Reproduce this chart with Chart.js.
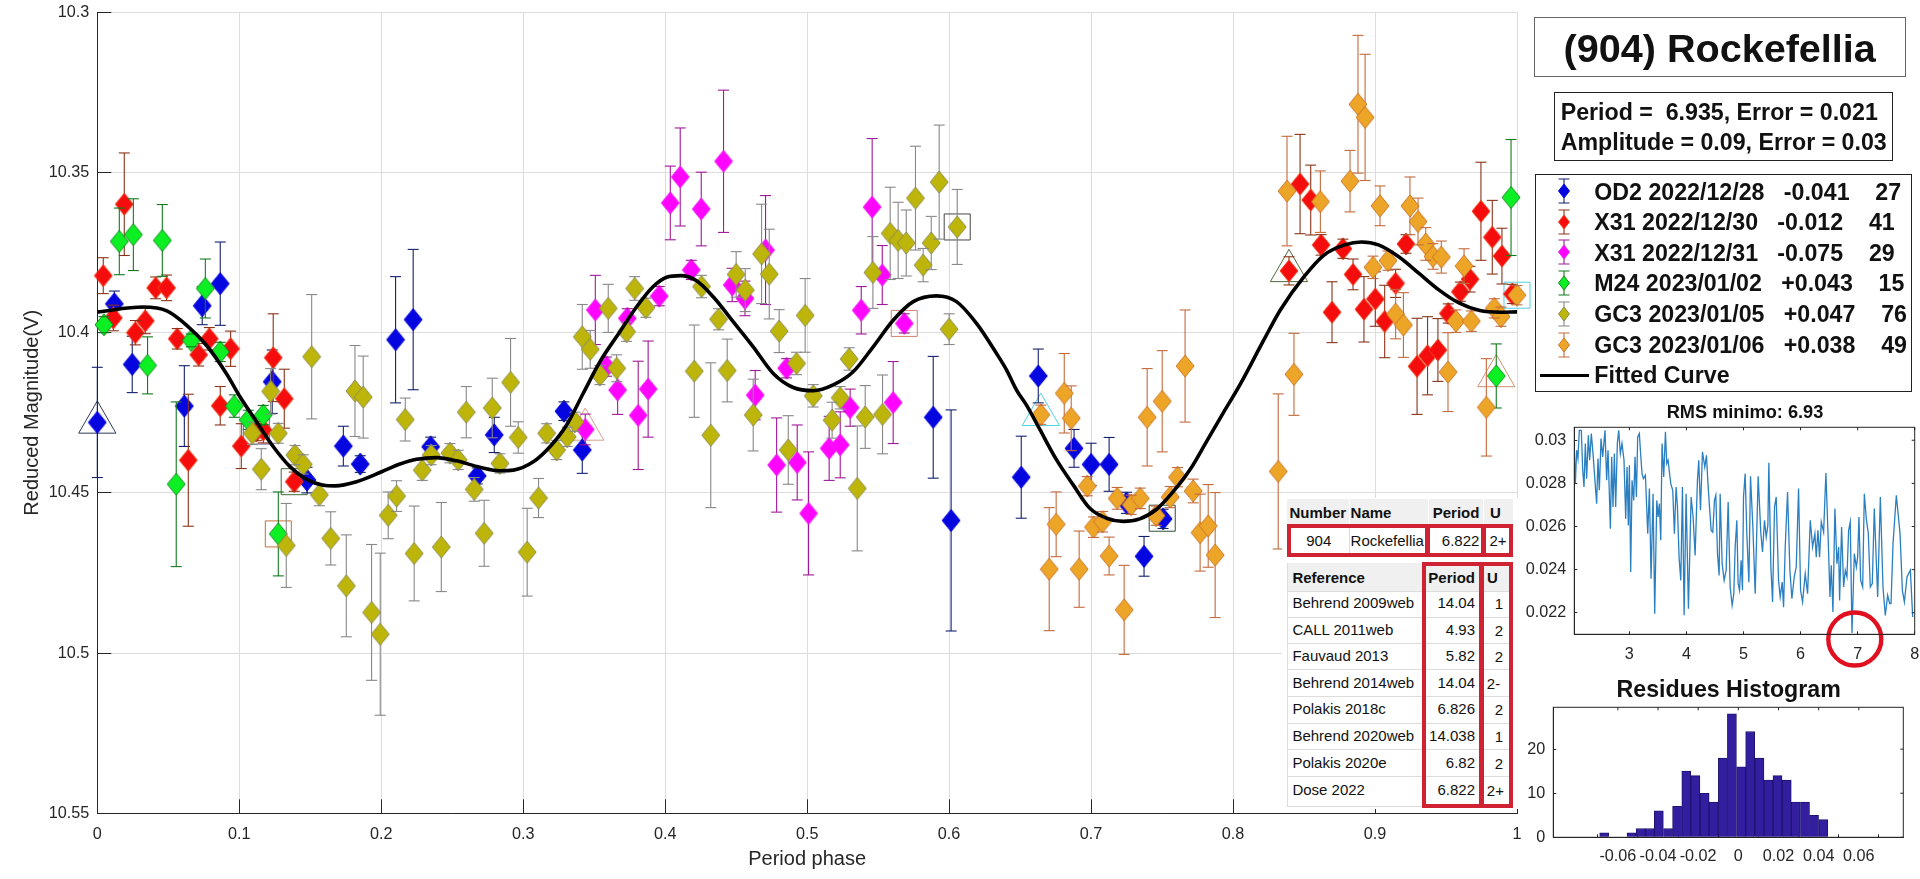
<!DOCTYPE html>
<html>
<head>
<meta charset="utf-8">
<title>(904) Rockefellia</title>
<script src="https://cdn.jsdelivr.net/npm/chart.js@4"></script>
<style>
  html, body { margin: 0; padding: 0; background: #fff; overflow: hidden; }
  #page { position: relative; width: 1920px; height: 879px; font-family: "Liberation Sans", Arial, sans-serif; }
  canvas { position: absolute; }
  .txt { position: absolute; line-height: 1; white-space: pre; color: #111; }
  .box { position: absolute; box-sizing: border-box; }
</style>
</head>
<body>
<div id="page">
  <canvas id="mainChart" width="1540" height="879" style="left:0;top:0"></canvas>
  <canvas id="rmsChart" width="400" height="260" style="left:1520px;top:420px"></canvas>
  <canvas id="histChart" width="400" height="179" style="left:1520px;top:700px"></canvas>
</div>
<script>
// 1. Data

// 1.1 main plot axes
const xTicks = [0, 0.1, 0.2, 0.3, 0.4, 0.5, 0.6, 0.7, 0.8, 0.9, 1];
const yTicks = [10.3, 10.35, 10.4, 10.45, 10.5, 10.55];

// 1.2 OD2 2022/12/28
const od2Phase = [0, .012, .0246, .0613, .0739, .0866, .1232, .1477, .1733, .1852, .2101, .2225, .2348, .2676, .2796, .3287, .3416, .5888, .6014, .6508, .6628, .688, .7, .7127, .7249, .7373, .7507];
const od2Mag = [10.428, 10.391, 10.4099, 10.4229, 10.3916, 10.3847, 10.4153, 10.446, 10.4354, 10.441, 10.4022, 10.3959, 10.4356, 10.4447, 10.4319, 10.4245, 10.4366, 10.4264, 10.4586, 10.4451, 10.4135, 10.4361, 10.4411, 10.4411, 10.4531, 10.4698, 10.4581];
const od2Err = [.0172, .004, .0088, .0126, .0059, .013, .0099, .004, .0062, .0026, .0197, .0219, .003, .0025, .0055, .0029, .0073, .019, .0345, .0128, .0084, .0059, .0066, .0084, .0033, .0062, .003];

// 1.3 X31 2022/12/30
const x31aPhase = [.0042, .0113, .019, .0268, .0338, .0411, .0488, .0563, .0641, .0714, .0789, .0866, .0939, .1014, .112, .1169, .1239, .1317, .1387, .8394, .8472, .8547, .862, .8697, .8774, .8845, .8922, .9002, .9068, .9145, .9218, .9296, .937, .9443, .9516, .9601, .9669, .9746, .9826, .9894, .9967];
const x31aMag = [10.3822, 10.3954, 10.3599, 10.4, 10.3963, 10.386, 10.386, 10.4019, 10.4398, 10.4069, 10.4019, 10.4228, 10.405, 10.4354, 10.4307, 10.4304, 10.4078, 10.4206, 10.4465, 10.3807, 10.3536, 10.3586, 10.3726, 10.3936, 10.3738, 10.3818, 10.3927, 10.3895, 10.3965, 10.3846, 10.3723, 10.4105, 10.4072, 10.4054, 10.394, 10.3872, 10.3833, 10.3621, 10.3702, 10.3761, 10.3879];
const x31aErr = [.0056, .004, .016, .0038, .004, .0034, .004, .0032, .0206, .0035, .0035, .006, .0055, .007, .003, .004, .0137, .0092, .003, .0044, .0155, .0109, .0032, .0095, .003, .0048, .0102, .0085, .0113, .0044, .0029, .015, .0122, .0098, .003, .003, .004, .0153, .0115, .0087, .003];

// 1.4 X31 2022/12/31
const x31bPhase = [.3437, .3508, .3587, .3665, .3733, .381, .388, .3958, .4036, .4106, .4184, .4254, .4411, .4472, .4562, .4634, .4707, .4785, .4855, .493, .501, .5155, .5233, .5303, .5381, .5458, .5529, .5606, .5684];
const x31bMag = [10.4302, 10.3929, 10.4106, 10.4179, 10.3955, 10.4258, 10.4176, 10.3886, 10.3595, 10.3514, 10.3804, 10.3614, 10.3465, 10.3851, 10.3893, 10.4195, 10.3742, 10.4413, 10.4111, 10.4405, 10.4564, 10.4361, 10.435, 10.4234, 10.393, 10.3608, 10.382, 10.4218, 10.3971];
const x31bErr = [.0048, .0108, .003, .0076, .003, .0169, .015, .003, .0115, .0153, .003, .0115, .0222, .0052, .0054, .0077, .017, .0147, .003, .0117, .0192, .01, .0103, .0058, .0074, .0214, .0092, .0128, .003];

// 1.5 M24 2023/01/02
const m24Phase = [.0047, .0155, .0254, .0354, .0458, .0556, .0662, .0761, .0866, .0965, .1063, .1169, .1275, .9854, .9958];
const m24Mag = [10.3975, 10.3715, 10.3694, 10.4102, 10.3712, 10.4473, 10.4024, 10.3862, 10.406, 10.4229, 10.4272, 10.4257, 10.4628, 10.4135, 10.3578];
const m24Err = [.0025, .0104, .0112, .0089, .0112, .0257, .002, .0092, .003, .0035, .003, .003, .0131, .01, .0181];

// 1.6 GC3 2023/01/05
const gc3aPhase = [.1092, .1155, .1221, .1275, .1331, .1392, .1451, .151, .1564, .1644, .1754, .1815, .1873, .1932, .1993, .2049, .2108, .2169, .2232, .2289, .2352, .2423, .2484, .2542, .2599, .2655, .2725, .2782, .2836, .2911, .2965, .3028, .3108, .3165, .3235, .331, .3364, .3416, .3472, .354, .3599, .3658, .3728, .3785, .3864, .4205, .4256, .4321, .4376, .4437, .45, .4564, .462, .4679, .4733, .4803, .4867, .4925, .4986, .5043, .5176, .5233, .5296, .5353, .5409, .5463, .5531, .5585, .5641, .5698, .5763, .5817, .5874, .593, .6, .6057];
const gc3aMag = [10.4314, 10.4426, 10.4183, 10.4314, 10.4664, 10.4382, 10.4411, 10.4075, 10.4506, 10.4642, 10.479, 10.4182, 10.4201, 10.4873, 10.4941, 10.457, 10.451, 10.4271, 10.4689, 10.4429, 10.4382, 10.4669, 10.4376, 10.4397, 10.4248, 10.4489, 10.4626, 10.4235, 10.4408, 10.4155, 10.4327, 10.4685, 10.4516, 10.4314, 10.4366, 10.4325, 10.4278, 10.4013, 10.4052, 10.4132, 10.3924, 10.4111, 10.3997, 10.3862, 10.3922, 10.412, 10.3856, 10.432, 10.3958, 10.4118, 10.3818, 10.3867, 10.4257, 10.3754, 10.3817, 10.3995, 10.4366, 10.4096, 10.3946, 10.4197, 10.4273, 10.4203, 10.4082, 10.4486, 10.4263, 10.3812, 10.4255, 10.369, 10.3712, 10.372, 10.358, 10.3789, 10.372, 10.353, 10.3989, 10.367];
const gc3aErr = [.0035, .0064, .0071, .0031, .0131, .003, .003, .0194, .0034, .0083, .0159, .0142, .0128, .0212, .0253, .0073, .0048, .0067, .0148, .0032, .003, .0139, .003, .003, .008, .0037, .0103, .0093, .003, .0137, .0049, .0137, .0061, .003, .003, .003, .003, .0101, .0059, .003, .0075, .0042, .003, .0037, .003, .0144, .0035, .0226, .0033, .0098, .0071, .0067, .0112, .0155, .014, .0067, .0107, .0035, .0115, .0035, .0056, .0035, .0035, .0195, .0098, .0112, .0123, .0144, .0119, .0103, .0162, .0052, .0083, .0178, .0048, .0117];

// 1.7 GC3 2023/01/06
const gc3bPhase = [.6646, .6705, .6754, .6811, .686, .6916, .6973, .7017, .708, .7127, .7184, .7233, .7282, .7346, .7395, .7458, .7501, .7557, .7609, .7662, .7719, .7768, .7825, .7874, .8318, .838, .8429, .8615, .8824, .888, .893, .8986, .9035, .9091, .9145, .92, .9246, .9303, .9357, .9408, .9467, .9514, .957, .9627, .9678, .9784, .984, .9887, .9999];
const gc3bMag = [10.4256, 10.4738, 10.4598, 10.4189, 10.4267, 10.4738, 10.4479, 10.4607, 10.459, 10.4697, 10.4517, 10.4865, 10.4537, 10.4517, 10.4264, 10.4571, 10.4214, 10.4513, 10.4451, 10.4104, 10.4494, 10.4624, 10.4603, 10.4694, 10.4433, 10.3558, 10.413, 10.3591, 10.3527, 10.3287, 10.3328, 10.3796, 10.3604, 10.3775, 10.3942, 10.3976, 10.3604, 10.3653, 10.3723, 10.3762, 10.3764, 10.4123, 10.3964, 10.3792, 10.3964, 10.4233, 10.3924, 10.395, 10.3883];
const gc3bErr = [.003, .0192, .0101, .0124, .0101, .0119, .003, .0032, .0032, .0059, .0034, .0139, .003, .0032, .0152, .003, .0158, .0033, .003, .0175, .0037, .012, .0129, .0195, .0242, .0171, .0128, .0096, .0096, .0215, .0197, .0035, .0062, .003, .0077, .0101, .009, .0073, .0051, .004, .005, .0123, .0035, .0054, .0032, .0152, .003, .003, .003];

// 1.8 fitted curve
const fitPhase = [0, .0324, .049, .063, .077, .091, .1005, .1122, .124, .1357, .1474, .1592, .1674, .1826, .2003, .2132, .2249, .239, .2531, .2695, .2836, .293, .3071, .3188, .3306, .3423, .354, .3681, .3799, .3916, .401, .4108, .4221, .4338, .448, .462, .4761, .4902, .5043, .5184, .5324, .5465, .5606, .5747, .5911, .6052, .6193, .6334, .6404, .6475, .6545, .6639, .6757, .6874, .6991, .7109, .7226, .7343, .7461, .7578, .7696, .7813, .793, .8048, .8214, .8333, .85, .8643, .8786, .8905, .9024, .9167, .931, .9452, .9595, .9738, .988, 1];
const fitMag = [10.3935, 10.392, 10.3932, 10.3977, 10.404, 10.4128, 10.42, 10.4278, 10.4356, 10.4418, 10.4458, 10.4476, 10.4478, 10.4465, 10.4434, 10.441, 10.4395, 10.439, 10.44, 10.442, 10.4431, 10.4429, 10.4403, 10.4356, 10.4288, 10.4189, 10.4091, 10.3997, 10.3919, 10.3856, 10.3827, 10.3822, 10.3838, 10.3888, 10.3966, 10.4044, 10.4127, 10.4171, 10.4181, 10.4163, 10.4122, 10.4044, 10.3961, 10.3903, 10.3885, 10.3903, 10.3971, 10.4065, 10.4116, 10.4179, 10.4226, 10.4302, 10.4397, 10.4475, 10.4548, 10.4579, 10.4589, 10.4581, 10.4551, 10.4496, 10.4428, 10.434, 10.4251, 10.4163, 10.4025, 10.3929, 10.3825, 10.3757, 10.3726, 10.3717, 10.3726, 10.3763, 10.3815, 10.3867, 10.3908, 10.3931, 10.3936, 10.3935];

// 1.9 marked points (triangles and squares)
const markPhase = [0, .3437, .6646, .8394, .9854, .1387, .1275, .112, .6057, .5684, .7501, 1];
const markMag = [10.428, 10.4302, 10.4256, 10.3807, 10.4135, 10.4465, 10.4628, 10.4307, 10.367, 10.3971, 10.4579, 10.3883];
const markShape = ['triangle', 'triangle', 'triangle', 'triangle', 'triangle', 'rect', 'rect', 'rect', 'rect', 'rect', 'rect', 'rect'];
const markColor = ['#2a3a55', '#d8a090', '#50d0e0', '#506a3c', '#d09070', '#3c6a3c', '#c87030', '#6a5a90', '#444444', '#d08070', '#2f4f3a', '#50d0e0'];

// 1.10 RMS period scan
const rmsTicksX = [3, 4, 5, 6, 7, 8];
const rmsTicksY = [0.022, 0.024, 0.026, 0.028, 0.03];
const rmsPeriod = [2.035, 2.053, 2.076, 2.099, 2.123, 2.158, 2.181, 2.205, 2.228, 2.251, 2.281, 2.304, 2.333, 2.363, 2.392, 2.427, 2.45, 2.474, 2.503, 2.532, 2.573, 2.602, 2.626, 2.649, 2.667, 2.69, 2.713, 2.737, 2.76, 2.789, 2.813, 2.842, 2.871, 2.906, 2.936, 2.959, 2.982, 3, 3.023,
  3.047, 3.076, 3.099, 3.123, 3.146, 3.175, 3.199, 3.222, 3.246, 3.281, 3.322, 3.351, 3.38, 3.415, 3.444, 3.48, 3.503, 3.526, 3.55, 3.573, 3.602, 3.632, 3.655, 3.678, 3.725, 3.76, 3.789, 3.819, 3.842, 3.871, 3.901, 3.93, 3.959, 3.994, 4.035, 4.082, 4.117, 4.152, 4.193, 4.216, 4.246, 4.281, 4.322, 4.351, 4.374, 4.404, 4.433,
  4.462, 4.491, 4.515, 4.544, 4.573, 4.591, 4.626, 4.661, 4.696, 4.731, 4.766, 4.801, 4.83, 4.854, 4.883, 4.906, 4.93, 4.959, 4.982, 5,
  5.029, 5.058, 5.094, 5.123, 5.164, 5.205, 5.257, 5.304, 5.333, 5.368, 5.398, 5.427, 5.444, 5.48, 5.509, 5.544, 5.573, 5.614, 5.643, 5.678, 5.702, 5.731, 5.772, 5.813, 5.848, 5.889, 5.924, 5.965, 6, 6.035, 6.082, 6.123, 6.17,
  6.211, 6.251, 6.275, 6.304, 6.333, 6.363, 6.404, 6.444, 6.485, 6.515, 6.538, 6.567, 6.602, 6.637, 6.667, 6.684, 6.719, 6.754, 6.784, 6.813, 6.842, 6.871, 6.901, 6.942, 6.977, 7, 7.023, 7.053, 7.088, 7.117, 7.152, 7.187, 7.222, 7.257, 7.292, 7.351, 7.398, 7.444, 7.485, 7.526, 7.561, 7.585, 7.62, 7.678, 7.743, 7.784, 7.819, 7.865, 7.924, 7.965, 8];
const rmsValue = [.02954, .02799, .02954, .02915, .03046, .03046, .02868, .02783, .02985, .02822, .03023, .02907, .03031, .02938, .0283, .02706, .02915, .02768, .03008, .02923, .03046, .02814, .02954, .02752, .0259, .02923, .02691, .02938, .02691, .02985, .03046, .02938, .02985, .02907, .02636, .02876, .02605, .02884, .02389,
  .02814, .02721, .02923, .02737, .03015, .03031, .0293, .02845, .02822, .02838, .02567, .02776, .02358, .02752, .02195, .02721, .02644, .02706, .02536, .02985, .0283, .03039, .02892, .02907, .02799, .02768, .02567, .02783, .02691, .02458, .0235, .02783, .02188, .02752, .02219, .02737, .02644, .02466, .02814, .02907, .02675, .02946, .02876, .0293, .02814, .02691,
  .02582, .02574, .02721, .02745, .02474, .02373, .02752, .02427, .0235, .02397, .02714, .02319, .02234, .02288, .02505, .02629, .02335, .02304, .02443, .02304,
  .02737, .02845, .02567, .02342, .02833, .02598, .02288, .02833, .02567, .02482, .02629, .02551, .02605, .02895, .02412, .0225, .02691, .02737, .0235, .02273, .02342, .02226, .02505, .0276, .02397, .02265, .02366, .02412, .02776, .02304, .0225, .02381, .02288,
  .02629, .02505, .02567, .02458, .02582, .02458, .02621, .02574, .02848, .02536, .02273, .0242, .02203, .02683, .02427, .02505, .02257, .02598, .02319, .02397, .02366, .02582, .02621, .02106, .02474, .02412, .02458, .02644, .0235, .02319, .02752, .02636, .02567, .02319, .02335, .02683, .02273, .02737, .02319, .02188, .02281, .02242, .02242, .0252, .02745, .02567, .02304, .0225, .02366, .02397, .0218];
const rmsMinPeriod = [6.95];
const rmsMinValue = [0.02078];

// 1.11 residues histogram
const histTicksX = [-0.06, -0.04, -0.02, 0, 0.02, 0.04, 0.06];
const histTicksY = [0, 10, 20];
const histCenters = [-.0668, -.0623, -.0577, -.0532, -.0486, -.0441, -.0396, -.035, -.0305, -.0259, -.0214, -.0168, -.0123, -.0077, -.0032, .0014, .0059, .0105, .015, .0195, .0241, .0286, .0332, .0377, .0423];
const histCounts = [1, 0, 0, 1, 2, 2, 6, 2, 7, 15, 14, 10, 8, 18, 28, 16, 24, 18, 13, 14, 13, 8, 8, 5, 4];

// 1.12 texts
const legendLabels = ['OD2 2022/12/28   -0.041    27', 'X31 2022/12/30   -0.012    41', 'X31 2022/12/31   -0.075    29', 'M24 2023/01/02   +0.043    15', 'GC3 2023/01/05   +0.047    76', 'GC3 2023/01/06   +0.038    49'];
const refNames = ['Behrend 2009web', 'CALL 2011web', 'Fauvaud 2013', 'Behrend 2014web', 'Polakis 2018c', 'Behrend 2020web', 'Polakis 2020e', 'Dose 2022'];
const refPeriods = ['14.04', '4.93', '5.82', '14.04', '6.826', '14.038', '6.82', '6.822'];
const refU = ['1', '2', '2', '2-', '2', '1', '2', '2+'];

// 2. Styles
const seriesStyle = [
  { fill: '#0505e0', edge: '#0505e0', bar: '#14206e' },
  { fill: '#f50d0d', edge: '#f0401c', bar: '#8a3318' },
  { fill: '#ff05ff', edge: '#f020f0', bar: '#a0189a' },
  { fill: '#0cf023', edge: '#138a1e', bar: '#137a1e' },
  { fill: '#bdb50a', edge: '#8c8c50', bar: '#888888' },
  { fill: '#eda527', edge: '#cc7528', bar: '#c46a3c' }
];
const FONT = '"Liberation Sans", Arial, sans-serif';
const INK = '#262626';
const RED_FRAME = '#cf2233';

// 3. Helpers
const page = document.getElementById('page');

// 3.1 text by its baseline position
function addText(text, x, base, size, opts = {}) {
  const el = document.createElement('div');
  el.className = 'txt';
  el.textContent = text;
  el.style.left = x + 'px';
  el.style.top = (base - 0.8465 * size) + 'px';
  el.style.fontSize = size + 'px';
  if (opts.bold) el.style.fontWeight = 'bold';
  if (opts.color) el.style.color = opts.color;
  if (opts.align === 'right') el.style.transform = 'translateX(-100%)';
  if (opts.align === 'center') el.style.transform = 'translateX(-50%)';
  page.appendChild(el);
}

// 3.2 plain rectangle
function addBox(x, y, w, h, css) {
  const el = document.createElement('div');
  el.className = 'box';
  Object.assign(el.style, { left: x + 'px', top: y + 'px', width: w + 'px', height: h + 'px' }, css);
  page.appendChild(el);
}

// 3.3 diamond image used as point style
function diamond(fill, edge) {
  const c = document.createElement('canvas');
  c.width = 20;
  c.height = 24;
  const g = c.getContext('2d');
  g.beginPath();
  g.moveTo(10, 1);
  g.lineTo(19, 12);
  g.lineTo(10, 23);
  g.lineTo(1, 12);
  g.closePath();
  g.fillStyle = fill;
  g.fill();
  g.strokeStyle = edge;
  g.lineWidth = 1;
  g.stroke();
  return c;
}

function toPoints(xs, ys) {
  return xs.map((x, i) => ({ x: x, y: ys[i] }));
}

function seriesDataset(xs, ys, errs, style, order) {
  return {
    data: toPoints(xs, ys),
    errors: errs,
    barColor: style.bar,
    pointStyle: diamond(style.fill, style.edge),
    pointRadius: 9,
    showLine: false,
    clip: false,
    order: order
  };
}

// 3.4 error bars: stems go under the diamonds, caps over them
const errorBars = {
  id: 'errorBars',
  beforeDatasetDraw(chart, args) {
    const ds = chart.data.datasets[args.index];
    if (!ds.errors) return;
    const { x: sx, y: sy } = chart.scales;
    const ctx = chart.ctx;
    ctx.save();
    ctx.strokeStyle = ds.barColor;
    ctx.lineWidth = 1.1;
    ds.data.forEach((p, i) => {
      const px = sx.getPixelForValue(p.x);
      ctx.beginPath();
      ctx.moveTo(px, sy.getPixelForValue(p.y - ds.errors[i]));
      ctx.lineTo(px, sy.getPixelForValue(p.y + ds.errors[i]));
      ctx.stroke();
    });
    ctx.restore();
  },
  afterDatasetDraw(chart, args) {
    const ds = chart.data.datasets[args.index];
    if (!ds.errors) return;
    const { x: sx, y: sy } = chart.scales;
    const ctx = chart.ctx;
    ctx.save();
    ctx.strokeStyle = ds.barColor;
    ctx.lineWidth = 1.1;
    ds.data.forEach((p, i) => {
      const px = sx.getPixelForValue(p.x);
      [p.y - ds.errors[i], p.y + ds.errors[i]].forEach(v => {
        const py = sy.getPixelForValue(v);
        ctx.beginPath();
        ctx.moveTo(px - 5.5, py);
        ctx.lineTo(px + 5.5, py);
        ctx.stroke();
      });
    });
    ctx.restore();
  }
};

// 3.5 closed box with small mirrored ticks for the two small plots
const frameBox = {
  id: 'frameBox',
  afterDatasetsDraw(chart) {
    const { left, right, top, bottom } = chart.chartArea;
    const ctx = chart.ctx;
    ctx.save();
    ctx.strokeStyle = INK;
    ctx.lineWidth = 1;
    ctx.strokeRect(left, top, right - left, bottom - top);
    chart.scales.x.ticks.forEach(t => {
      const px = chart.scales.x.getPixelForValue(t.value);
      ctx.beginPath();
      ctx.moveTo(px, top);
      ctx.lineTo(px, top + 3);
      ctx.stroke();
    });
    chart.scales.y.ticks.forEach(t => {
      const py = chart.scales.y.getPixelForValue(t.value);
      ctx.beginPath();
      ctx.moveTo(right, py);
      ctx.lineTo(right - 3, py);
      ctx.stroke();
    });
    ctx.restore();
  }
};

// 3.6 shared axis options, size is the fixed room beside the plot
function axis(tickValues, min, max, size, tickPad, extra) {
  return Object.assign({
    type: 'linear',
    min: min,
    max: max,
    afterBuildTicks: s => { s.ticks = tickValues.map(v => ({ value: v })); },
    afterFit: s => {
      if (s.isHorizontal()) s.height = size;
      else s.width = size;
      s.paddingLeft = s.paddingRight = s.paddingTop = s.paddingBottom = 0;
    },
    ticks: {
      autoSkip: false,
      maxRotation: 0,
      padding: tickPad,
      color: INK,
      font: { family: FONT, size: 16.2 },
      callback: v => String(v)
    },
    border: { color: INK, width: 1 }
  }, extra);
}

const baseOptions = {
  responsive: false,
  animation: false,
  plugins: { legend: { display: false }, tooltip: { enabled: false } }
};

// 4. Main phase plot
new Chart(document.getElementById('mainChart'), {
  type: 'scatter',
  plugins: [errorBars],
  data: {
    datasets: [
      {
        data: toPoints(fitPhase, fitMag),
        showLine: true,
        borderColor: '#000',
        borderWidth: 3.6,
        cubicInterpolationMode: 'monotone',
        pointRadius: 0,
        clip: false,
        order: 0
      },
      seriesDataset(gc3bPhase, gc3bMag, gc3bErr, seriesStyle[5], 1),
      seriesDataset(gc3aPhase, gc3aMag, gc3aErr, seriesStyle[4], 2),
      seriesDataset(m24Phase, m24Mag, m24Err, seriesStyle[3], 3),
      seriesDataset(x31bPhase, x31bMag, x31bErr, seriesStyle[2], 4),
      seriesDataset(x31aPhase, x31aMag, x31aErr, seriesStyle[1], 5),
      seriesDataset(od2Phase, od2Mag, od2Err, seriesStyle[0], 6),
      {
        data: toPoints(markPhase, markMag),
        showLine: false,
        pointStyle: markShape,
        pointRadius: markShape.map(s => (s === 'triangle' ? 21.5 : 18.4)),
        pointBackgroundColor: 'rgba(0,0,0,0)',
        pointBorderColor: markColor,
        pointBorderWidth: 1,
        clip: false,
        order: 7
      }
    ]
  },
  options: Object.assign({}, baseOptions, {
    layout: { autoPadding: false, padding: { left: 0, top: 12.3, right: 23, bottom: 0 } },
    scales: {
      x: axis(xTicks, 0, 1, 65.7, 26, {
        grid: { color: '#dcdcdc', tickColor: INK, tickLength: -14 },
        title: { display: true, text: 'Period phase', color: INK, font: { family: FONT, size: 20 }, padding: { top: 0, bottom: 8 } }
      }),
      y: axis(yTicks, 10.3, 10.55, 97.3, 22, {
        reverse: true,
        grid: { color: '#dcdcdc', tickColor: INK, tickLength: -14 },
        title: { display: true, text: 'Reduced Magnitude(V)', color: INK, font: { family: FONT, size: 20 }, padding: { top: 20, bottom: 0 } }
      })
    }
  })
});

// 5. RMS period scan
new Chart(document.getElementById('rmsChart'), {
  type: 'scatter',
  plugins: [frameBox],
  data: {
    datasets: [
      {
        data: toPoints(rmsMinPeriod, rmsMinValue),
        showLine: false,
        pointStyle: 'circle',
        pointRadius: 26.5,
        pointBackgroundColor: 'rgba(0,0,0,0)',
        pointBorderColor: '#e01020',
        pointBorderWidth: 4.4,
        clip: false,
        order: 0
      },
      {
        data: toPoints(rmsPeriod, rmsValue),
        showLine: true,
        borderColor: '#2a7fc0',
        borderWidth: 1.3,
        pointRadius: 0,
        order: 1
      }
    ]
  },
  options: Object.assign({}, baseOptions, {
    layout: { autoPadding: false, padding: { left: 0, top: 7.3, right: 5.3, bottom: 0 } },
    scales: {
      x: axis(rmsTicksX, 2.035, 8, 45.7, 14, {
        grid: { drawOnChartArea: false, tickColor: INK, tickLength: -3 }
      }),
      y: axis(rmsTicksY, 0.021, 0.0306, 54.3, 11, {
        grid: { drawOnChartArea: false, tickColor: INK, tickLength: -3 }
      })
    }
  })
});

// 6. Residues histogram
new Chart(document.getElementById('histChart'), {
  type: 'bar',
  plugins: [frameBox],
  data: {
    datasets: [{
      data: toPoints(histCenters, histCounts),
      backgroundColor: '#341ea0',
      borderColor: '#1c1470',
      borderWidth: 1,
      barPercentage: 1,
      categoryPercentage: 1
    }]
  },
  options: Object.assign({}, baseOptions, {
    layout: { autoPadding: false, padding: { left: 0, top: 7.3, right: 16.7, bottom: 0 } },
    scales: {
      x: axis(histTicksX, -0.0797, 0.0697, 41.7, 13, {
        grid: { drawOnChartArea: false, tickColor: INK, tickLength: -3 }
      }),
      y: axis(histTicksY, 0, 29.5, 33.3, 11, {
        grid: { drawOnChartArea: false, tickColor: INK, tickLength: -3 }
      })
    }
  })
});

// 7. Right column: title, fit box, legend
addBox(1534.3, 16.7, 371.4, 60.3, { border: '1.5px solid #666' });
addText('(904) Rockefellia', 1719.7, 62.3, 39.6, { bold: true, align: 'center' });

addBox(1554.3, 91.7, 338.4, 69.6, { border: '1px solid #222' });
addText('Period =  6.935, Error = 0.021', 1560.7, 120.7, 23.2, { bold: true });
addText('Amplitude = 0.09, Error = 0.03', 1560.7, 150.7, 23.2, { bold: true });

addBox(1535.3, 174.3, 377, 218, { border: '1px solid #222' });
const legendBase = [201, 231, 261.7, 291.7, 322.7, 353.3];
const legendMid = [191.3, 222.3, 252.3, 283.3, 314, 345];
legendLabels.forEach((label, i) => {
  addText(label, 1594.3, legendBase[i], 23.2, { bold: true });
  const s = seriesStyle[i];
  const icon = document.createElementNS('http://www.w3.org/2000/svg', 'svg');
  icon.setAttribute('width', '20');
  icon.setAttribute('height', '30');
  icon.style.position = 'absolute';
  icon.style.left = '1554.3px';
  icon.style.top = (legendMid[i] - 15) + 'px';
  icon.innerHTML =
    `<path d="M10 3V27M4.5 3H15.5M4.5 27H15.5" stroke="${s.bar}" stroke-width="1.1" fill="none"/>` +
    `<polygon points="10,8 15.5,15 10,22 4.5,15" fill="${s.fill}" stroke="${s.edge}"/>`;
  page.appendChild(icon);
});
addBox(1540, 374, 49, 3.4, { background: '#000' });
addText('Fitted Curve', 1594.3, 384, 23.2, { bold: true });

addText('RMS minimo: 6.93', 1745, 418, 18.2, { bold: true, align: 'center' });
addText('Residues Histogram', 1728.7, 697.7, 23.2, { bold: true, align: 'center' });

// 8. Pasted reference tables over the main plot
const TABLE_SIZE = 15;
const tableLeft = 1286.7;
const tableRight = 1513;
addBox(1282, 498, 235.5, 311, { background: '#fff' });

// 8.1 asteroid row
addBox(tableLeft, 499.3, tableRight - tableLeft, 25, { background: '#f0f0f0' });
[1348.5, 1427.7, 1483.4].forEach(x => addBox(x, 499.3, 1, 25, { background: '#fff' }));
addText('Number', 1289.4, 518, TABLE_SIZE, { bold: true });
addText('Name', 1350.6, 518, TABLE_SIZE, { bold: true });
addText('Period', 1479.4, 518, TABLE_SIZE, { bold: true, align: 'right' });
addText('U', 1490, 518, TABLE_SIZE, { bold: true });
addBox(1348.5, 526, 1, 29, { background: '#ddd' });
addText('904', 1318.8, 546, TABLE_SIZE, { align: 'center' });
addText('Rockefellia', 1350.6, 546, TABLE_SIZE);
addText('6.822', 1479.4, 546, TABLE_SIZE, { align: 'right' });
addText('2+', 1489.5, 546, TABLE_SIZE);
addBox(tableLeft, 524.3, tableRight - tableLeft, 32.4, { border: '4px solid ' + RED_FRAME });
addBox(1425.3, 524.3, 4.7, 32.4, { background: RED_FRAME });
addBox(1481.4, 524.3, 4.6, 32.4, { background: RED_FRAME });

// 8.2 references
addBox(tableLeft, 563.3, tableRight - tableLeft, 27.4, { background: '#f0f0f0' });
addBox(tableLeft, 563.3, 1, 243, { background: '#ddd' });
const rowLines = [590.7, 616.7, 642.7, 669.3, 696, 722.7, 749.3, 775.7, 805.7];
rowLines.forEach(y => addBox(tableLeft, y, tableRight - tableLeft, 1, { background: '#ddd' }));
addText('Reference', 1292.4, 583, TABLE_SIZE, { bold: true });
addText('Period', 1475, 583, TABLE_SIZE, { bold: true, align: 'right' });
addText('U', 1487, 583, TABLE_SIZE, { bold: true });
const rowBase = [608, 635, 661, 688, 714, 741, 768, 795];
refNames.forEach((name, i) => {
  addText(name, 1292.4, rowBase[i], TABLE_SIZE);
  addText(refPeriods[i], 1475, rowBase[i], TABLE_SIZE, { align: 'right' });
  if (refU[i].length > 1) addText(refU[i], 1486.8, rowBase[i] + 1, TABLE_SIZE);
  else addText(refU[i], 1503, rowBase[i] + 1, TABLE_SIZE, { align: 'right' });
});
addBox(1421.6, 562.3, 91.4, 246, { border: '4.5px solid ' + RED_FRAME });
addBox(1478.5, 562.3, 5, 246, { background: RED_FRAME });
</script>
</body>
</html>
